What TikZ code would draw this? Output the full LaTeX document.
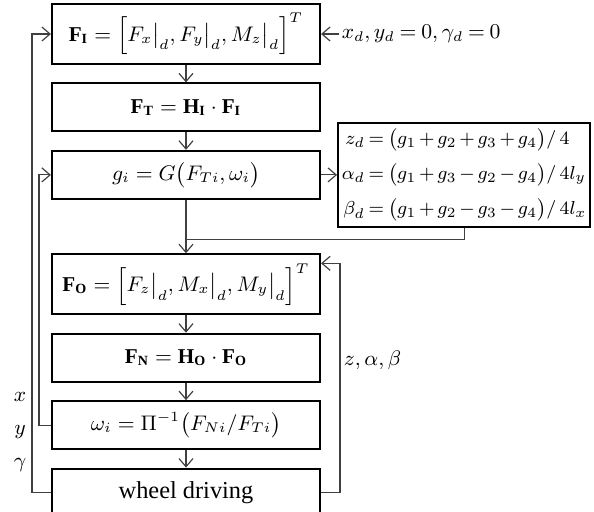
\documentclass[tikz,border=0pt]{standalone}
\usepackage{amsmath}
\usepackage{fontspec}
\setmainfont{Liberation Serif}
\usepackage{tikz}
\usetikzlibrary{arrows.meta, positioning}

\begin{document}
\begin{tikzpicture}[node distance=0.26cm, >={Straight Barb[length=3.5pt,width=6pt]}, x=0.015cm, y=-0.015cm,
    font=\fontsize{9}{11}\selectfont]

    % Define the styles
    \tikzstyle{block} = [rectangle, draw, line width=0.9pt, text centered, minimum width=4.02cm, minimum height=0.72cm, inner sep=1pt]
    \tikzstyle{tallblock} = [block, minimum height=0.9cm]
    \tikzstyle{eqbox} = [rectangle, draw, line width=0.9pt, minimum width=3.78cm, minimum height=1.56cm, inner sep=1pt,
        font=\fontsize{8.5}{10}\selectfont]
    \tikzstyle{arrow} = [->, line width=0.5pt, draw=black!75]
    \tikzstyle{link} = [line width=0.5pt, draw=black!75]
    \tikzstyle{label} = [inner sep=1pt]

    \useasboundingbox (0,0) rectangle (594,512);

    % Nodes
    \node (fi) [tallblock] at (186,34) {$\mathbf{F}_{\mathbf{I}}=\Bigl[F_x\big|_d, F_y\big|_d, M_z\big|_d\Bigr]^T$};
    \node (ft) [block, below=of fi] {$\mathbf{F}_{\mathbf{T}}=\mathbf{H}_{\mathbf{I}}\cdot\mathbf{F}_{\mathbf{I}}$};
    \node (gi) [block, below=of ft] {$g_i=G\bigl(F_{Ti},\omega_i\bigr)$};
    \node (fo) [tallblock, below=0.8cm of gi] {$\mathbf{F}_{\mathbf{O}}=\Bigl[F_z\big|_d, M_x\big|_d, M_y\big|_d\Bigr]^T$};
    \node (fn) [block, below=of fo] {$\mathbf{F}_{\mathbf{N}}=\mathbf{H}_{\mathbf{O}}\cdot\mathbf{F}_{\mathbf{O}}$};
    \node (om) [block, below=of fn] {$\omega_i=\Pi^{-1}\bigl(F_{Ni}/F_{Ti}\bigr)$};
    \node (wd) [block, below=of om, font=\fontsize{10.4}{12.5}\selectfont] {wheel driving};

    \node (eq) [eqbox, right=0.24cm of gi] {\setlength{\jot}{5pt}$\medmuskip=2.5mu\relax\thickmuskip=3.5mu\relax
    \begin{aligned}
        z_d &= \bigl(g_1+g_2+g_3+g_4\bigr)/\,4\\
        \alpha_d &= \bigl(g_1+g_3-g_2-g_4\bigr)/\,4l_y\\
        \beta_d &= \bigl(g_1+g_2-g_3-g_4\bigr)/\,4l_x
    \end{aligned}$};

    \node (xd) [label, anchor=west, right=0.27cm of fi] {$\thickmuskip=4mu\relax x_d, y_d=0, \gamma_d=0$};
    \node (zab) [label, anchor=west] at (341,360) {$z, \alpha, \beta$};
    \node (xyg) [label, align=center] at (20,432) {$x$\\[3pt]$y$\\[3pt]$\gamma$};

    \coordinate (mrg) at ([yshift=0.21cm]fo.north);

    % Arrows
    \draw [arrow] (xd.west) -- (fi.east);
    \draw [arrow] (fi) -- (ft);
    \draw [arrow] (ft) -- (gi);
    \draw [arrow] (gi) -- (eq);
    \draw [arrow] (gi) -- (fo);
    \draw [link] (eq.south) |- (mrg);
    \draw [arrow] (fo) -- (fn);
    \draw [arrow] (fn) -- (om);
    \draw [arrow] (om) -- (wd);

    % Feedback loops
    \draw [arrow] (wd.west) -- ++(-0.285cm,0) |- (fi.west);
    \draw [arrow] (om.west) -- ++(-0.18cm,0) |- (gi.west);
    \draw [arrow] (wd.east) -- ++(0.285cm,0) |- ([yshift=0.315cm]fo.east);

\end{tikzpicture}
\end{document}
